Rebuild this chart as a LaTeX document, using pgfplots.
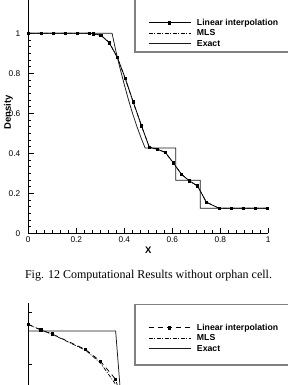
\documentclass[border=0pt]{standalone}
\usepackage{pgfplots}
\pgfplotsset{compat=1.18}
\usepackage{fontspec}
\setmainfont{Liberation Serif}
\setsansfont{Liberation Sans}

\pgfplotstableread{
x y
0.000 1.000
0.055 1.000
0.105 1.000
0.155 1.000
0.205 1.000
0.254 1.000
0.271 0.998
0.303 0.990
0.337 0.953
0.371 0.880
0.404 0.775
0.437 0.658
0.472 0.537
0.504 0.430
0.537 0.420
0.571 0.405
0.604 0.353
0.638 0.295
0.670 0.263
0.705 0.238
0.742 0.155
0.795 0.125
0.845 0.125
0.895 0.125
0.946 0.125
0.997 0.125
}\toplin

\pgfplotstableread{
x y
0.000 1.000
0.055 1.000
0.105 1.000
0.155 1.000
0.205 1.000
0.254 1.000
0.271 0.997
0.303 0.989
0.337 0.955
0.371 0.878
0.404 0.772
0.437 0.655
0.472 0.535
0.504 0.432
0.537 0.421
0.571 0.404
0.604 0.351
0.638 0.296
0.670 0.262
0.705 0.236
0.742 0.156
0.795 0.125
0.845 0.125
0.895 0.125
0.946 0.125
0.997 0.125
}\topmls

\pgfplotstableread{
x y
0.000 1.000
0.349 1.000
0.366 0.905
0.3835 0.819
0.401 0.739
0.418 0.665
0.435 0.597
0.4525 0.534
0.470 0.477
0.487 0.426
0.614 0.426
0.614 0.265
0.716 0.265
0.716 0.125
1.000 0.125
}\topexact

\pgfplotstableread{
x y
0.000 1.111
0.053 1.067
0.100 1.036
0.2375 0.918
0.300 0.828
0.364 0.688
0.400 0.450
}\botlin

\pgfplotstableread{
x y
0.000 1.110
0.050 1.070
0.100 1.034
0.240 0.910
0.300 0.815
0.360 0.660
0.395 0.450
}\botmls

\pgfplotstableread{
x y
0.000 1.059
0.364 1.059
0.390 0.446
}\botexact

\pgfplotsset{
  mystyle/.style={
    scale only axis, width=240pt,
    xmin=0, xmax=1,
    axis x line*=bottom, axis y line*=left,
    axis line style={line width=0.8pt},
    tick align=inside,
    tick style={black, line width=0.7pt},
    major tick length=5.5pt, minor tick length=3pt,
    font=\sffamily,
    tick label style={font=\sffamily\fontsize{8.3}{9}\selectfont},
    /pgf/number format/assume math mode=true,
    label style={font=\sffamily\bfseries\fontsize{9.5}{11}\selectfont},
    legend cell align=left,
    legend style={draw=none, fill=none, inner sep=0pt, row sep=1.5pt, column sep=6pt,
      font=\sffamily\bfseries\fontsize{8.7}{10}\selectfont,
      nodes={inner sep=0pt, text height=7pt, text depth=2pt}},
    legend image code/.code={\draw[mark repeat=2,mark phase=2,##1] plot coordinates {(0pt,0pt) (21pt,0pt) (42pt,0pt)};},
  },
  lin/.style={black, line width=0.75pt, mark=square*, mark size=1.2pt, mark options={solid}},
  mls/.style={black, line width=0.7pt, dash pattern=on 4pt off 1.5pt on 1pt off 1.5pt},
  ex/.style={black!90, line width=0.75pt},
}

\begin{document}
\begin{tikzpicture}
\begin{scope}
\clip (0pt,0pt) rectangle (288pt,385pt);
% top chart
\begin{axis}[mystyle,
  at={(28.3pt,151.7pt)}, anchor=south west, height=240pt,
  ymin=0, ymax=1.2,
  xtick={0,0.2,0.4,0.6,0.8,1}, ytick={0,0.2,0.4,0.6,0.8,1},
  minor tick num=5,
  yticklabel style={xshift=-4.5pt},
  xlabel={X}, ylabel={Density},
  xlabel style={at={(axis description cs:0.5,-0.0696)}, anchor=center},
  ylabel style={at={(axis description cs:-0.0825,0.505)}, anchor=center},
  legend style={at={(axis description cs:0.4988,0.8333)}, anchor=west},
]
\addplot[lin] table {\toplin};
\addlegendentry{Linear interpolation}
\addplot[mls] table {\topmls};
\addlegendentry{MLS}
\addplot[ex] table {\topexact};
\addlegendentry{Exact}
\end{axis}
\draw[black!50, line width=1.4pt] (135pt,400pt) -- (135pt,333pt) -- (300pt,333pt);
% bottom chart
\begin{axis}[mystyle,
  at={(28.3pt,82pt)}, anchor=north west, height=165.75pt,
  ymin=0, ymax=1.275,
  xtick=\empty, ytick={0.8,1.2}, yticklabels={},
  major tick length=3.5pt,
  legend style={at={(axis description cs:0.4988,0.7866)}, anchor=west},
]
\addplot[lin, dash pattern=on 5pt off 4pt] table {\botlin};
\addlegendentry{Linear interpolation}
\addplot[mls] table {\botmls};
\addlegendentry{MLS}
\addplot[ex] table {\botexact};
\addlegendentry{Exact}
\end{axis}
\draw[black!50, line width=1.4pt] (300pt,80.7pt) -- (135pt,80.7pt) -- (135pt,20pt) -- (300pt,20pt);
\end{scope}
\node[font=\fontsize{12}{14}\selectfont, anchor=center] at (148.5pt,109pt) {Fig. 12 Computational Results without orphan cell.};
\pgfresetboundingbox
\useasboundingbox (0pt,0pt) rectangle (288pt,385pt);
\end{tikzpicture}
\end{document}
